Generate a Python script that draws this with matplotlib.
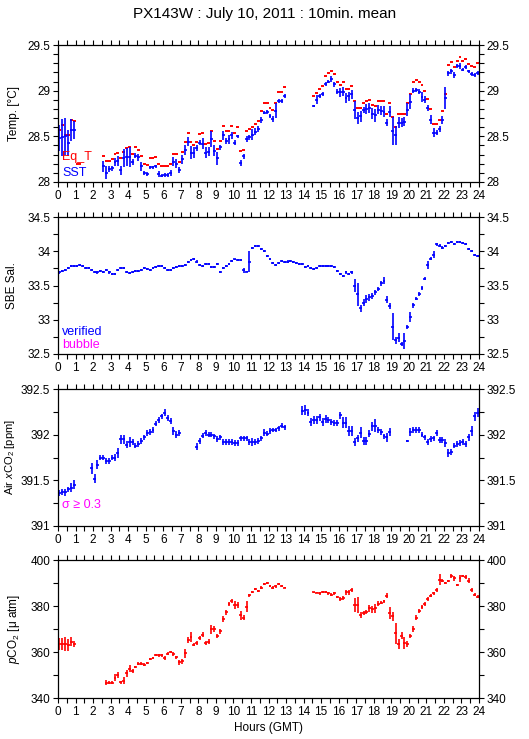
import matplotlib
matplotlib.use("Agg")
import matplotlib.pyplot as plt
import numpy as np
from matplotlib.ticker import MultipleLocator, FuncFormatter

nan = np.nan

# 10-minute bins over the day (144 slots), values read hour by hour (6 per row)
sst = [
    28.48, 28.49, 28.50, 28.43, 28.57, 28.57,
    nan, nan, nan, nan, nan, nan,
    nan, nan, nan, 28.17, 28.10, 28.14,
    28.15, 28.22, 28.23, 28.13, 28.26, 28.27,
    28.27, 28.22, 28.29, 28.27, 28.17, 28.10,
    28.09, 28.16, 28.16, 28.17, 28.09, 28.07,
    28.08, 28.08, 28.10, 28.22, 28.20, 28.13,
    28.25, 28.35, 28.44, 28.32, 28.32, 28.37,
    28.43, 28.42, 28.32, 28.33, 28.47, 28.34,
    28.26, 28.38, 28.51, 28.45, 28.47, 28.51,
    28.43, 28.50, 28.21, 28.28, 28.47, 28.49,
    28.52, 28.55, 28.58, 28.68, 28.76, 28.77,
    28.72, 28.69, 28.78, 28.89, 28.89, 28.94,
    nan, nan, nan, nan, nan, nan,
    nan, nan, nan, 28.83, 28.90, 28.94,
    28.96, 29.07, 29.10, 29.13, 29.07, 28.99,
    28.98, 28.99, 28.92, 28.94, 28.96, 28.79,
    28.70, 28.72, 28.79, 28.80, 28.81, 28.75,
    28.73, 28.79, 28.78, 28.77, 28.65, 28.77,
    28.56, 28.51, 28.65, 28.65, 28.66, 28.79,
    28.88, 29.00, 29.01, 28.99, 28.93, 28.90,
    28.81, 28.68, 28.54, 28.54, 28.58, 28.68,
    28.92, 29.19, 29.21, 29.17, 29.27, 29.27,
    29.23, 29.26, 29.21, 29.18, 29.17, 29.19,
]
sst_err = [
    0.14, 0.20, 0.20, 0.14, 0.12, 0.10,
    nan, nan, nan, nan, nan, nan,
    nan, nan, nan, 0.06, 0.07, 0.03,
    0.03, 0.04, 0.05, 0.05, 0.10, 0.10,
    0.11, 0.03, 0.03, 0.04, 0.05, 0.02,
    0.02, 0.02, 0.02, 0.02, 0.03, 0.02,
    0.02, 0.02, 0.03, 0.05, 0.05, 0.03,
    0.05, 0.05, 0.05, 0.07, 0.06, 0.03,
    0.03, 0.06, 0.06, 0.05, 0.09, 0.06,
    0.07, 0.03, 0.05, 0.03, 0.05, 0.04,
    0.03, 0.02, 0.03, 0.03, 0.03, 0.03,
    0.06, 0.04, 0.03, 0.03, 0.02, 0.02,
    0.02, 0.03, 0.08, 0.02, 0.02, 0.02,
    nan, nan, nan, nan, nan, nan,
    nan, nan, nan, 0.01, 0.05, 0.02,
    0.02, 0.02, 0.02, 0.03, 0.03, 0.03,
    0.05, 0.05, 0.05, 0.05, 0.05, 0.10,
    0.07, 0.06, 0.03, 0.05, 0.05, 0.06,
    0.07, 0.05, 0.05, 0.06, 0.04, 0.06,
    0.15, 0.10, 0.06, 0.05, 0.05, 0.07,
    0.08, 0.03, 0.02, 0.03, 0.05, 0.04,
    0.03, 0.05, 0.05, 0.03, 0.03, 0.04,
    0.12, 0.03, 0.03, 0.03, 0.02, 0.03,
    0.02, 0.02, 0.02, 0.02, 0.02, 0.02,
]
eq_t = [
    28.57, 28.62, 28.51, 28.52, 28.68, 28.67,
    28.20, 28.20, nan, nan, nan, nan,
    nan, nan, nan, 28.29, 28.23, 28.23,
    28.25, 28.31, 28.32, 28.26, 28.33, 28.37,
    28.38, 28.31, 28.38, 28.35, 28.29, 28.20,
    28.19, 28.26, 28.26, 28.27, 28.20, 28.17,
    28.18, 28.18, 28.20, 28.31, 28.31, 28.22,
    28.33, 28.44, 28.54, 28.44, 28.40, 28.44,
    28.53, 28.54, 28.42, 28.43, 28.56, 28.45,
    28.36, 28.45, 28.61, 28.56, 28.56, 28.61,
    28.54, 28.60, 28.34, 28.35, 28.56, 28.58,
    28.60, 28.64, 28.67, 28.78, 28.86, 28.87,
    28.81, 28.79, 28.86, 28.98, 28.98, 29.04,
    nan, nan, nan, nan, nan, nan,
    nan, nan, nan, 28.94, 28.97, 29.02,
    29.05, 29.16, 29.19, 29.21, 29.18, 29.10,
    29.06, 29.09, 29.02, 29.02, 29.05, 28.89,
    28.81, 28.81, 28.87, 28.89, 28.90, 28.84,
    28.83, 28.89, 28.89, 28.89, 28.75, 28.86,
    28.71, 28.60, 28.75, 28.75, 28.75, 28.87,
    28.96, 29.09, 29.12, 29.10, 29.06, 29.00,
    28.91, 28.80, 28.64, 28.64, 28.68, 28.78,
    28.96, 29.28, 29.31, 29.26, 29.33, 29.37,
    29.32, 29.35, 29.29, 29.27, 29.26, 29.30,
]
sal = [
    33.69, 33.71, 33.73, 33.76, 33.78, 33.78,
    33.79, 33.80, 33.79, 33.75, 33.75, 33.72,
    33.70, 33.69, 33.71, 33.70, 33.73, 33.69,
    33.67, 33.67, 33.73, 33.76, 33.76, 33.70,
    33.68, 33.70, 33.71, 33.71, 33.73, 33.75,
    33.74, 33.73, 33.75, 33.77, 33.78, 33.79,
    33.76, 33.73, 33.72, 33.75, 33.77, 33.78,
    33.79, 33.80, 33.84, 33.87, 33.88, 33.85,
    33.80, 33.78, 33.81, 33.82, 33.77, 33.77,
    33.81, 33.70, 33.75, 33.79, 33.82, 33.86,
    33.88, 33.87, 33.87, 33.72, 33.70, 33.85,
    34.05, 34.07, 34.07, 34.03, 34.01, 33.93,
    33.88, 33.83, 33.80, 33.83, 33.86, 33.84,
    33.85, 33.86, 33.84, 33.83, 33.82, 33.82,
    33.77, 33.79, 33.76, 33.74, 33.75, 33.79,
    33.79, 33.79, 33.79, 33.78, 33.77, 33.71,
    33.67, 33.64, 33.69, 33.67, 33.69, 33.50,
    33.37, 33.17, 33.25, 33.30, 33.33, 33.35,
    33.40, 33.45, 33.53, 33.57, 33.29, 33.20,
    32.90, 32.70, 32.74, 32.64, 32.69, 32.89,
    33.04, 33.21, 33.31, 33.37, 33.47, 33.60,
    33.80, 33.89, 33.95, 34.10, 34.08, 34.05,
    34.07, 34.12, 34.14, 34.11, 34.13, 34.13,
    34.12, 34.10, 34.03, 34.00, 33.95, 33.93,
]
sal_err = [0.015] * 60 + [
    0.01, 0.01, 0.01, 0.04, 0.01, 0.15,
] + [0.015] * 30 + [
    0.015, 0.015, 0.015, 0.015, 0.02, 0.10,
    0.17, 0.05, 0.05, 0.06, 0.05, 0.04,
    0.04, 0.03, 0.03, 0.05, 0.05, 0.05,
    0.20, 0.05, 0.06, 0.03, 0.12, 0.03,
    0.08, 0.04, 0.02, 0.03, 0.03, 0.02,
    0.06, 0.02, 0.05, 0.02, 0.02, 0.02,
] + [0.015] * 12
air_xco2 = [
    391.36, 391.37, 391.37, 391.40, 391.42, 391.45,
    nan, nan, nan, nan, nan, 391.63,
    391.52, 391.67, 391.75, 391.75, 391.71, 391.71,
    391.75, 391.75, 391.80, 391.95, 391.95, 391.89,
    391.92, 391.92, 391.88, 391.90, 391.93, 391.97,
    392.02, 392.03, 392.05, 392.12, 392.16, 392.20,
    392.24, 392.18, 392.15, 392.04, 392.00, 392.02,
    nan, nan, nan, nan, nan, 391.87,
    391.93, 391.99, 392.02, 392.00, 392.00, 391.98,
    391.95, 391.97, 391.92, 391.92, 391.92, 391.92,
    391.91, 391.91, 391.96, 391.96, 391.96, 391.92,
    391.92, 391.92, 391.93, 391.96, 392.02, 392.01,
    392.04, 392.05, 392.05, 392.07, 392.10, 392.08,
    nan, nan, nan, nan, nan, 392.26,
    392.27, 392.24, 392.14, 392.16, 392.16, 392.19,
    392.14, 392.17, 392.16, 392.14, 392.13, 392.13,
    392.21, 392.13, 392.13, 392.04, 392.04, 391.92,
    391.96, 392.02, 391.93, 391.93, 392.01, 392.09,
    392.10, 392.05, 392.03, 391.98, 391.97, 392.03,
    nan, nan, nan, nan, nan, 391.93,
    392.03, 392.05, 392.05, 392.05, 392.00, 391.97,
    391.92, 391.95, 391.96, 392.02, 391.94, 391.94,
    391.91, 391.80, 391.81, 391.88, 391.90, 391.91,
    391.92, 391.90, 391.97, 392.04, 392.20, 392.24,
]
air_err = [
    0.03, 0.03, 0.04, 0.03, 0.05, 0.05,
    nan, nan, nan, nan, nan, 0.06,
    0.05, 0.05, 0.03, 0.03, 0.03, 0.03,
    0.03, 0.04, 0.05, 0.05, 0.05, 0.04,
    0.05, 0.03, 0.03, 0.03, 0.03, 0.03,
    0.03, 0.03, 0.03, 0.03, 0.03, 0.03,
    0.04, 0.03, 0.03, 0.04, 0.04, 0.03,
    nan, nan, nan, nan, nan, 0.04,
    0.03, 0.03, 0.03, 0.03, 0.03, 0.03,
    0.03, 0.03, 0.03, 0.03, 0.03, 0.03,
    0.03, 0.03, 0.03, 0.03, 0.03, 0.03,
    0.04, 0.03, 0.03, 0.03, 0.04, 0.03,
    0.03, 0.02, 0.02, 0.03, 0.03, 0.03,
    nan, nan, nan, nan, nan, 0.05,
    0.05, 0.04, 0.04, 0.04, 0.04, 0.04,
    0.04, 0.04, 0.03, 0.03, 0.03, 0.03,
    0.04, 0.06, 0.06, 0.06, 0.06, 0.04,
    0.04, 0.06, 0.04, 0.04, 0.04, 0.05,
    0.07, 0.03, 0.03, 0.03, 0.05, 0.04,
    nan, nan, nan, nan, nan, 0.01,
    0.04, 0.03, 0.03, 0.03, 0.03, 0.03,
    0.03, 0.03, 0.03, 0.03, 0.03, 0.03,
    0.04, 0.04, 0.03, 0.03, 0.03, 0.03,
    0.03, 0.03, 0.04, 0.05, 0.05, 0.05,
]
pco2 = [
    363.5, 363.5, 363.5, 363.0, 364.5, 363.5,
    nan, nan, nan, nan, nan, nan,
    nan, nan, nan, nan, 346.7, 346.7,
    346.7, 348.8, 350.0, 346.8, 347.5, 350.7,
    352.8, 351.7, 353.5, 355.0, 355.0, 354.5,
    355.2, 357.0, 357.5, 358.6, 358.5, 358.5,
    357.5, 359.3, 360.0, 359.0, 357.7, 355.5,
    356.0, 359.5, 365.2, 366.5, 363.2, 364.0,
    366.0, 367.5, 364.0, 364.5, 369.9, 370.0,
    367.0, 369.0, 374.3, 377.2, 380.9, 382.3,
    380.5, 380.5, 376.0, 375.0, 379.7, 384.6,
    386.2, 387.4, 386.5, 388.0, 389.6, 390.0,
    388.7, 388.0, 388.5, 389.5, 388.8, 388.0,
    nan, nan, nan, nan, nan, nan,
    nan, nan, nan, 386.0, 385.8, 385.5,
    386.0, 386.0, 385.5, 385.0, 385.5, 383.9,
    383.0, 383.5, 386.0, 386.0, 387.0, 380.6,
    380.5, 376.1, 377.0, 377.5, 379.0, 378.5,
    379.0, 381.0, 381.5, 382.0, 384.5, 377.0,
    375.5, 368.1, 363.5, 367.0, 364.0, 363.5,
    367.0, 370.0, 375.0, 377.8, 379.5, 381.0,
    383.0, 384.5, 385.5, 387.0, 391.5, 391.0,
    390.0, 391.0, 393.0, 392.0, 389.0, 392.0,
    393.0, 392.5, 391.0, 387.0, 385.0, 384.0,
]
pco2_err = [
    2.5, 2.8, 3.0, 2.5, 2.0, 1.5,
    nan, nan, nan, nan, nan, nan,
    nan, nan, nan, nan, 1.0, 0.5,
    0.6, 1.5, 1.2, 0.8, 1.5, 1.5,
    1.5, 1.0, 0.6, 0.5, 0.5, 0.6,
    0.5, 0.5, 0.5, 0.5, 0.5, 0.6,
    0.8, 0.8, 0.5, 0.8, 0.6, 1.0,
    1.0, 2.0, 1.5, 2.0, 0.8, 0.8,
    0.8, 1.0, 1.0, 1.0, 2.0, 1.5,
    0.8, 1.0, 1.2, 1.0, 1.0, 0.8,
    1.8, 1.2, 2.0, 1.2, 2.5, 0.5,
    0.5, 0.6, 0.6, 0.5, 0.6, 0.5,
    0.5, 0.5, 0.5, 0.5, 0.5, 0.3,
    nan, nan, nan, nan, nan, nan,
    nan, nan, nan, 0.3, 0.3, 0.5,
    0.5, 0.5, 0.5, 0.5, 0.5, 0.6,
    0.8, 1.0, 1.0, 1.0, 0.8, 3.0,
    3.5, 1.5, 0.8, 0.8, 1.5, 1.5,
    2.0, 1.0, 0.8, 0.8, 1.2, 2.5,
    2.0, 4.5, 2.0, 1.5, 2.5, 1.5,
    0.8, 1.5, 1.2, 0.8, 0.8, 0.8,
    0.8, 0.8, 0.8, 0.8, 2.5, 0.6,
    0.5, 0.5, 0.8, 1.0, 0.5, 1.5,
    0.6, 0.8, 1.2, 1.0, 0.6, 0.6,
]

hours = (np.arange(144) + 0.5) / 6.0
half_bin = 1 / 12.0

plt.rcParams['font.family'] = ['Liberation Sans', 'DejaVu Sans']
plt.rcParams['font.size'] = 8
plt.rcParams['mathtext.fontset'] = 'custom'
plt.rcParams['mathtext.rm'] = 'Liberation Sans'
plt.rcParams['mathtext.it'] = 'Liberation Sans:italic'

fig = plt.figure(figsize=(5.29, 7.39), dpi=100)
W, H = 529.0, 739.0


def make_axes(top, bottom):
    return fig.add_axes([58 / W, 1 - bottom / H, 421 / W, (bottom - top) / H])


def fmt(v, pos):
    return '%g' % v


def style(ax, ylim, major, minor, ylabel, lx, lsize=8.5):
    ax.set_xlim(0, 24)
    ax.set_ylim(*ylim)
    ax.xaxis.set_major_locator(MultipleLocator(1))
    ax.xaxis.set_minor_locator(MultipleLocator(0.5))
    ax.yaxis.set_major_locator(MultipleLocator(major))
    ax.yaxis.set_minor_locator(MultipleLocator(minor))
    ax.yaxis.set_major_formatter(FuncFormatter(fmt))
    ax.tick_params(which='both', direction='out', top=True, right=True,
                   labelright=True, length=3.5, width=0.8, pad=2,
                   labelsize=8.5)
    for s in ax.spines.values():
        s.set_linewidth(0.9)
    ax.set_ylabel(ylabel, fontsize=lsize)
    ax.yaxis.set_label_coords(lx, 0.5)


def bars(ax, y, err, color):
    ax.errorbar(hours, y, yerr=err, xerr=half_bin, fmt='none',
                ecolor=color, elinewidth=1.2, capsize=0)


# Panel 1: temperature
ax1 = make_axes(45, 182)
ax1.hlines(eq_t, hours - half_bin, hours + half_bin, colors='red', lw=1.4)
bars(ax1, sst, sst_err, 'blue')
style(ax1, (28, 29.5), 0.5, 0.1, 'Temp. [°C]', -0.09)
ax1.text(0.01, 0.18, 'Eq_T', color='red', transform=ax1.transAxes,
         fontsize=9, va='center')
ax1.text(0.01, 0.066, 'SST', color='blue', transform=ax1.transAxes,
         fontsize=9, va='center')

# Panel 2: salinity
ax2 = make_axes(217, 354)
bars(ax2, sal, sal_err, 'blue')
style(ax2, (32.5, 34.5), 0.5, 0.25, 'SBE Sal.', -0.095)
ax2.text(0.01, 0.16, 'verified', color='blue', transform=ax2.transAxes,
         fontsize=9, va='center')
ax2.text(0.01, 0.066, 'bubble', color='magenta', transform=ax2.transAxes,
         fontsize=9, va='center')

# Panel 3: atmospheric xCO2
ax3 = make_axes(389, 526)
bars(ax3, air_xco2, air_err, 'blue')
style(ax3, (391, 392.5), 0.5, 0.25, r'Air $x$CO$_2$ [ppm]', -0.097, 8)
ax3.text(0.01, 0.155, 'σ ≥ 0.3', color='magenta', transform=ax3.transAxes,
         fontsize=9, va='center')

# Panel 4: pCO2
ax4 = make_axes(560, 698)
bars(ax4, pco2, pco2_err, 'red')
style(ax4, (340, 400), 20, 10, r'$p$CO$_2$ [μ atm]', -0.085)
ax4.set_xlabel('Hours (GMT)', fontsize=8.5, labelpad=3)

fig.text(0.5, 1 - 14 / H, 'PX143W : July 10, 2011 : 10min. mean',
         ha='center', va='center', fontsize=11)

fig.savefig('out.png', dpi=100)
